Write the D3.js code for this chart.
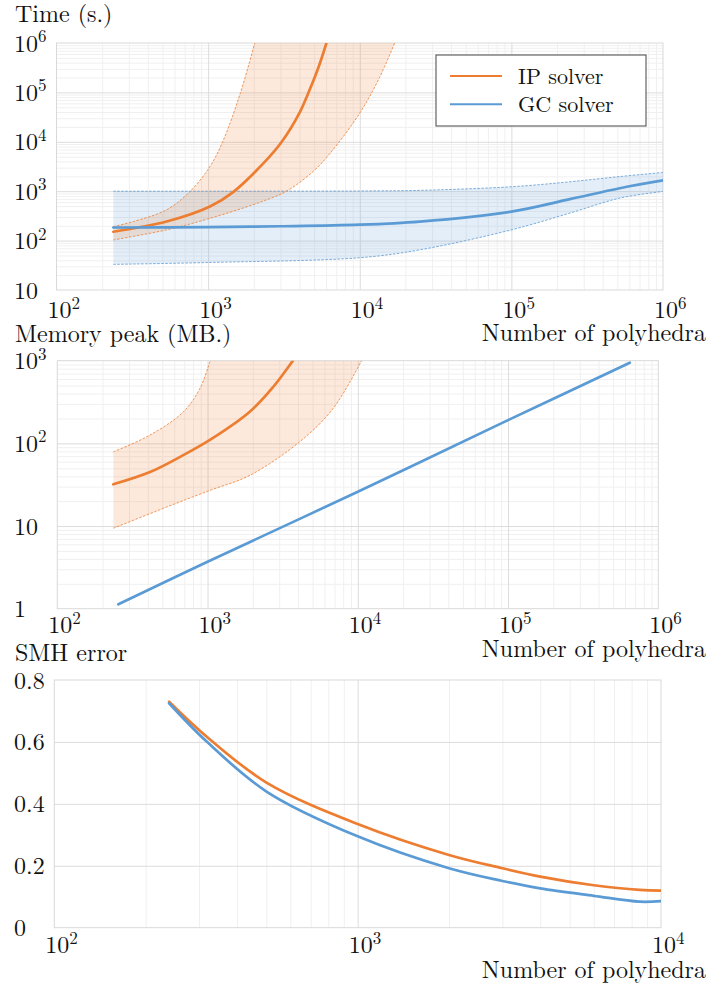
<!DOCTYPE html>
<html>
<head>
<meta charset="utf-8">
<script src="https://cdn.jsdelivr.net/npm/d3@7"></script>
<style>
body { margin: 0; background: #fff; }
</style>
</head>
<body>
<script>
// values: [number of polyhedra, value]
const timeIpMean  = [[237, 151], [532, 243], [1028, 490], [1462, 960], [2430, 4300], [3060, 10000], [4030, 40000], [4460, 80000], [5300, 300000], [6030, 1000000]]
const timeIpHigh  = [[237, 192], [321, 243], [532, 420], [759, 986], [1028, 3160], [1247, 10000], [1637, 100000], [2030, 1000000]]
const timeIpLow   = [[237, 103], [532, 165], [1028, 282], [2310, 631], [3290, 1000], [4930, 2512], [6310, 5620], [10000, 38000], [13500, 200000], [17000, 1000000]]
const timeGcMean  = [[237, 184], [1000, 188], [3000, 195], [10000, 210], [24900, 243], [100000, 387], [243000, 690], [519000, 1150], [1000000, 1650]]
const timeGcHigh  = [[237, 1000], [10000, 1010], [24900, 1040], [100000, 1230], [243000, 1550], [519000, 1980], [1000000, 2400]]
const timeGcLow   = [[237, 33], [1000, 36], [10000, 45], [24900, 65], [100000, 165], [243000, 360], [519000, 725], [1000000, 990]]

const memIpMean   = [[236, 32], [414, 45], [689, 72], [1037, 110], [1910, 241], [2740, 484], [3630, 955], [3700, 1000]]
const memIpHigh   = [[236, 79], [414, 126], [689, 240], [890, 462], [1037, 970], [1045, 1000]]
const memIpLow    = [[236, 9.4], [535, 17], [1037, 27], [1910, 41], [4120, 105], [6860, 265], [10600, 1000]]
const memGc       = [[255, 1.13], [1000, 3.7], [10000, 26], [100000, 191], [646000, 944]]

const smhIp       = [[239, 0.73], [318, 0.617], [502, 0.468], [1000, 0.335], [2000, 0.235], [3000, 0.192], [4000, 0.165], [6000, 0.137], [8500, 0.122], [10000, 0.12]]
const smhGc       = [[239, 0.725], [318, 0.601], [502, 0.439], [1000, 0.295], [2000, 0.192], [3000, 0.151], [4000, 0.127], [6000, 0.103], [8500, 0.084], [10000, 0.086]]

const xTicksWide  = [1e2, 1e3, 1e4, 1e5, 1e6]
const xTicksShort = [1e2, 1e3, 1e4]
const timeYTicks  = [10, 1e2, 1e3, 1e4, 1e5, 1e6]
const memYTicks   = [1, 10, 1e2, 1e3]
const smhYTicks   = [0, 0.2, 0.4, 0.6, 0.8]
const legendNames = ["IP solver", "GC solver"]

const ORANGE = "#ed7d31"
const BLUE = "#5b9bd5"

const svg = d3.select("body").append("svg")
    .attr("width", 711)
    .attr("height", 987)
    .style("font-family", "'Latin Modern Roman', 'Liberation Serif'")

// minor ticks 2..9 x 10^k inside a log domain
function minorTicks(domain) {
    const out = []
    for (let e = Math.round(Math.log10(domain[0])); e < Math.round(Math.log10(domain[1])); e++) {
        for (let k = 2; k <= 9; k++) out.push(k * Math.pow(10, e))
    }
    return out
}

// "10" with a superscript exponent, or plain text
function tickText(sel, v, log) {
    if (!log) { sel.text(String(v)); return }
    if (v === 1 || v === 10) { sel.text(String(v)); return }
    sel.append("tspan").text("10")
    sel.append("tspan").attr("font-size", 17).attr("dy", -9.5).text(Math.round(Math.log10(v)))
}

function drawPanel(cfg) {
    const g = svg.append("g")
    const h = cfg.bottom - cfg.top

    const x = d3.scaleLog().domain(cfg.xDomain).range([cfg.left, cfg.right])
    const y = (cfg.yLog ? d3.scaleLog() : d3.scaleLinear()).domain(cfg.yDomain).range([cfg.bottom, cfg.top])

    // grid lines
    const gridX = (vals, color) => g.append("g")
        .attr("transform", `translate(0,${cfg.bottom})`)
        .call(d3.axisBottom(x).tickValues(vals).tickSize(-h).tickFormat(""))
        .call(a => a.select(".domain").remove())
        .selectAll("line").attr("stroke", color).attr("stroke-width", 1)
    const gridY = (vals, color) => g.append("g")
        .attr("transform", `translate(${cfg.left},0)`)
        .call(d3.axisLeft(y).tickValues(vals).tickSize(-(cfg.right - cfg.left)).tickFormat(""))
        .call(a => a.select(".domain").remove())
        .selectAll("line").attr("stroke", color).attr("stroke-width", 1)

    gridX(minorTicks(cfg.xDomain), "#f0f0f0")
    if (cfg.yLog) gridY(minorTicks(cfg.yDomain), "#f0f0f0")
    gridX(cfg.xTicks.slice(1, -1), "#dcdcdc")
    gridY(cfg.yTicks.slice(1, -1), "#dcdcdc")

    g.append("rect")
        .attr("x", cfg.left).attr("y", cfg.top)
        .attr("width", cfg.right - cfg.left).attr("height", h)
        .attr("fill", "none").attr("stroke", "#d9d9d9")

    // clip for the data
    const clipId = "clip" + cfg.id
    svg.append("clipPath").attr("id", clipId)
        .append("rect")
        .attr("x", cfg.left).attr("y", cfg.top)
        .attr("width", cfg.right - cfg.left).attr("height", h)
    const plot = g.append("g").attr("clip-path", `url(#${clipId})`)

    const line = d3.line()
        .x(d => x(d[0]))
        .y(d => y(d[1]))
        .curve(d3.curveCatmullRom.alpha(0.5))

    // bands first, then their edges, then mean lines
    cfg.bands.forEach(b => {
        const d = line(b.high) + line(b.low.slice().reverse()).replace(/^M/, "L") + "Z"
        plot.append("path")
            .attr("d", d)
            .attr("fill", b.color)
            .attr("fill-opacity", 0.17)
    })
    cfg.bands.forEach(b => {
        [b.high, b.low].forEach(edge => {
            plot.append("path")
                .datum(edge)
                .attr("d", line)
                .attr("fill", "none")
                .attr("stroke", b.color)
                .attr("stroke-width", 0.8)
                .attr("stroke-dasharray", "2.5,1.5")
        })
    })
    cfg.lines.forEach(l => {
        plot.append("path")
            .datum(l.data)
            .attr("d", line)
            .attr("fill", "none")
            .attr("stroke", l.color)
            .attr("stroke-width", 2.7)
            .attr("stroke-linecap", "round")
    })

    // tick labels
    cfg.xTicks.forEach(v => {
        g.append("text")
            .attr("x", x(v) - 9)
            .attr("y", cfg.xLabelY)
            .attr("font-size", 24)
            .attr("fill", "#111")
            .call(tickText, v, true)
    })
    cfg.yTicks.forEach(v => {
        g.append("text")
            .attr("x", 14)
            .attr("y", y(v) + 8.5)
            .attr("font-size", 24)
            .attr("fill", "#111")
            .call(tickText, v, cfg.yLog)
    })

    // axis titles
    g.append("text")
        .attr("x", 15).attr("y", cfg.titleY)
        .attr("font-size", 24).attr("fill", "#111")
        .text(cfg.title)
    g.append("text")
        .attr("x", 706).attr("y", cfg.xTitleY)
        .attr("text-anchor", "end")
        .attr("font-size", 24).attr("fill", "#111")
        .text("Number of polyhedra")

    return g
}

drawPanel({
    id: 1, left: 56.5, right: 663, top: 43, bottom: 290,
    xDomain: [1e2, 1e6], yDomain: [10, 1e6], yLog: true,
    xTicks: xTicksWide, yTicks: timeYTicks,
    xLabelY: 318, titleY: 22, xTitleY: 341, title: "Time (s.)",
    bands: [
        { high: timeGcHigh, low: timeGcLow, color: BLUE },
        { high: timeIpHigh, low: timeIpLow, color: ORANGE }
    ],
    lines: [
        { data: timeIpMean, color: ORANGE },
        { data: timeGcMean, color: BLUE }
    ]
})

drawPanel({
    id: 2, left: 57.3, right: 658.3, top: 360.7, bottom: 608.7,
    xDomain: [1e2, 1e6], yDomain: [1, 1e3], yLog: true,
    xTicks: xTicksWide, yTicks: memYTicks,
    xLabelY: 633, titleY: 342, xTitleY: 657, title: "Memory peak (MB.)",
    bands: [
        { high: memIpHigh, low: memIpLow, color: ORANGE }
    ],
    lines: [
        { data: memIpMean, color: ORANGE },
        { data: memGc, color: BLUE }
    ]
})

drawPanel({
    id: 3, left: 54.3, right: 661, top: 680, bottom: 927.7,
    xDomain: [1e2, 1e4], yDomain: [0, 0.8], yLog: false,
    xTicks: xTicksShort, yTicks: smhYTicks,
    xLabelY: 953, titleY: 661, xTitleY: 978, title: "SMH error",
    bands: [],
    lines: [
        { data: smhIp, color: ORANGE },
        { data: smhGc, color: BLUE }
    ]
})

// legend of the first panel
const legend = svg.append("g")
legend.append("rect")
    .attr("x", 436).attr("y", 55)
    .attr("width", 210).attr("height", 71)
    .attr("fill", "#fff").attr("stroke", "#444").attr("stroke-width", 1)
legendNames.forEach((name, i) => {
    const yy = 76 + i * 28.3
    legend.append("line")
        .attr("x1", 450).attr("x2", 502)
        .attr("y1", yy).attr("y2", yy)
        .attr("stroke", i === 0 ? ORANGE : BLUE)
        .attr("stroke-width", 2)
    legend.append("text")
        .attr("x", 518).attr("y", yy + 7.5)
        .attr("font-size", 22).attr("fill", "#111")
        .text(name)
})
</script>
</body>
</html>
